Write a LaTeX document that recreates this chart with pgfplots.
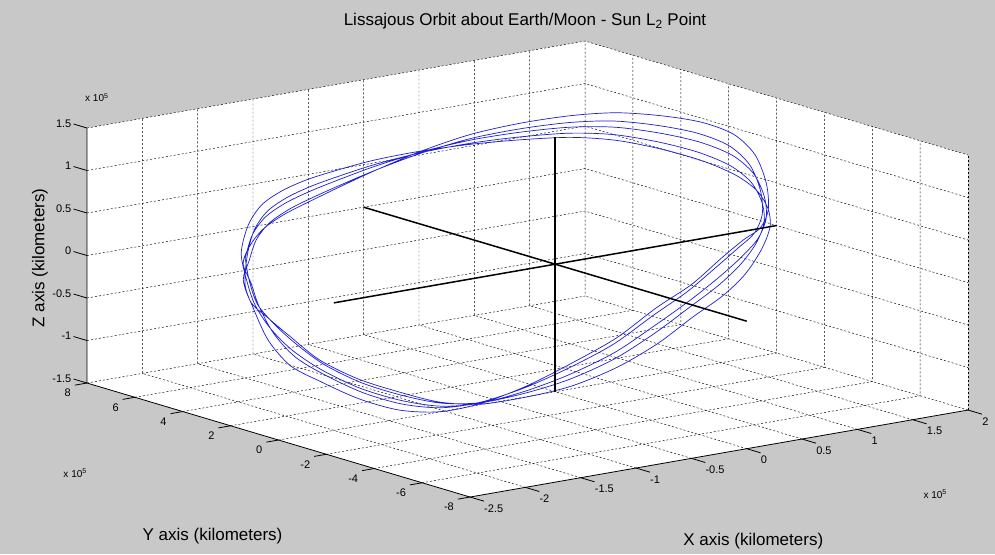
\documentclass[border=0pt]{standalone}
\usepackage{fontspec}
\setmainfont{Liberation Sans}
\usepackage{pgfplots}
\pgfplotsset{compat=1.18}
\definecolor{figbg}{RGB}{200,200,200}
\definecolor{orbit}{RGB}{30,30,215}
\tikzset{gridline/.style={black,line width=0.45pt,dash pattern=on 2pt off 2pt},
         axline/.style={black,line width=0.8pt},
         tl/.style={font=\fontsize{11}{13}\selectfont,inner sep=0pt}}
\begin{document}
\begin{tikzpicture}
\begin{axis}[
  x={(110.67pt,19.33pt)}, y={(-23.94pt,7.125pt)}, z={(0pt,85pt)},
  xmin=-2.5,xmax=2,ymin=-8,ymax=8,zmin=-1.5,zmax=1.5,
  hide axis, clip=false,
]
\coordinate (O) at (axis cs:0,0,0);
\fill[figbg] ([xshift=-555.2pt,yshift=-289.8pt]axis cs:0,0,0) rectangle ([xshift=439.8pt,yshift=264.2pt]axis cs:0,0,0);
\fill[white] (axis cs:-2.5,8,1.5) -- (axis cs:-2.5,8,-1.5) -- (axis cs:-2.5,-8,-1.5) -- (axis cs:2,-8,-1.5) -- (axis cs:2,-8,1.5) -- (axis cs:2,8,1.5) -- cycle;
% grid: x
\pgfplotsinvokeforeach{-2,-1.5,-1,-0.5,0,0.5,1,1.5}{
  \draw[gridline] (axis cs:#1,-8,-1.5) -- (axis cs:#1,8,-1.5) -- (axis cs:#1,8,1.5);
}
\draw[gridline] (axis cs:2,-8,-1.5) -- (axis cs:2,8,-1.5);
% grid: y
\pgfplotsinvokeforeach{-6,-4,-2,0,2,4,6,8}{
  \draw[gridline] (axis cs:-2.5,#1,-1.5) -- (axis cs:2,#1,-1.5) -- (axis cs:2,#1,1.5);
}
\draw[gridline] (axis cs:2,-8,-1.5) -- (axis cs:2,-8,1.5);
% grid: z
\pgfplotsinvokeforeach{-1,-0.5,0,0.5,1,1.5}{
  \draw[gridline] (axis cs:-2.5,8,#1) -- (axis cs:2,8,#1) -- (axis cs:2,-8,#1);
}
% axis lines
\draw[axline] (axis cs:-2.5,8,1.5) -- (axis cs:-2.5,8,-1.5) -- (axis cs:-2.5,-8,-1.5) -- (axis cs:2,-8,-1.5);
% ticks and labels
\pgfplotsinvokeforeach{-2.5,-2,-1.5,-1,-0.5,0,0.5,1,1.5,2}{
  \draw[axline] (axis cs:#1,-8,-1.5) -- (axis cs:#1,-8.58,-1.5);
  \node[tl,anchor=west] at ([xshift=14pt,yshift=-11.5pt]axis cs:#1,-8,-1.5) {#1};
}
\pgfplotsinvokeforeach{-8,-6,-4,-2,0,2,4,6,8}{
  \draw[axline] (axis cs:-2.5,#1,-1.5) -- (axis cs:-2.61,#1,-1.5);
  \node[tl,anchor=east] at ([xshift=-16pt,yshift=-10pt]axis cs:-2.5,#1,-1.5) {#1};
}
\pgfplotsinvokeforeach{-1.5,-1,-0.5,0,0.5,1,1.5}{
  \draw[axline] (axis cs:-2.5,8,#1) -- (axis cs:-2.5,8.56,#1);
  \node[tl,anchor=east] at ([xshift=-15.5pt,yshift=4.5pt]axis cs:-2.5,8,#1) {#1};
}
% orbit
\addplot3[orbit, line width=0.7pt, smooth, mark=none] coordinates {
(-1.965,3.866,0.193) (-1.713,4.738,0.334) (-1.440,5.456,0.423) (-1.142,6.000,0.474) (-0.840,6.349,0.518) (-0.538,6.496,0.578) (-0.235,6.434,0.667) (0.114,6.164,0.775) (0.464,5.696,0.876) (0.775,5.045,0.954) (1.051,4.233,1.018) (1.253,3.286,1.051) (1.431,2.231,1.029) (1.549,1.105,0.990) (1.587,-0.057,0.926) (1.526,-1.217,0.826) (1.383,-2.337,0.681) (1.175,-3.382,0.558) (0.900,-4.319,0.463) (0.583,-5.117,0.390) (0.247,-5.751,0.285) (-0.121,-6.199,0.124) (-0.491,-6.449,-0.065) (-0.862,-6.491,-0.295) (-1.232,-6.324,-0.484) (-1.559,-5.954,-0.640) (-1.844,-5.392,-0.764) (-2.047,-4.659,-0.814) (-2.217,-3.774,-0.780) (-2.361,-2.768,-0.690) (-2.468,-1.675,-0.545) (-2.490,-0.526,-0.401) (-2.437,0.639,-0.252) (-2.325,1.784,-0.103) (-2.162,2.871,0.039)
(-1.988,3.924,0.253) (-1.732,4.809,0.454) (-1.455,5.538,0.563) (-1.153,6.090,0.614) (-0.846,6.444,0.648) (-0.539,6.593,0.678) (-0.232,6.531,0.727) (0.122,6.256,0.775) (0.478,5.781,0.816) (0.793,5.121,0.854) (1.073,4.296,0.888) (1.278,3.335,0.886) (1.459,2.264,0.829) (1.579,1.122,0.760) (1.617,-0.058,0.686) (1.555,-1.235,0.616) (1.410,-2.372,0.531) (1.199,-3.433,0.458) (0.920,-4.384,0.343) (0.598,-5.194,0.190) (0.257,-5.837,0.065) (-0.116,-6.292,-0.066) (-0.492,-6.546,-0.275) (-0.868,-6.588,-0.465) (-1.244,-6.419,-0.614) (-1.576,-6.043,-0.700) (-1.865,-5.473,-0.764) (-2.071,-4.729,-0.754) (-2.244,-3.831,-0.670) (-2.390,-2.810,-0.570) (-2.498,-1.700,-0.415) (-2.521,-0.534,-0.221) (-2.467,0.649,-0.112) (-2.353,1.811,-0.073) (-2.188,2.914,0.069)
(-1.942,3.808,0.163) (-1.694,4.667,0.274) (-1.425,5.374,0.353) (-1.131,5.910,0.404) (-0.834,6.254,0.453) (-0.537,6.399,0.528) (-0.238,6.337,0.637) (0.106,6.072,0.775) (0.450,5.611,0.906) (0.757,4.969,1.004) (1.029,4.170,1.083) (1.228,3.237,1.134) (1.403,2.198,1.129) (1.519,1.088,1.105) (1.557,-0.056,1.046) (1.497,-1.199,0.931) (1.356,-2.302,0.756) (1.151,-3.331,0.608) (0.880,-4.254,0.523) (0.568,-5.040,0.490) (0.237,-5.665,0.395) (-0.126,-6.106,0.219) (-0.490,-6.352,0.040) (-0.856,-6.394,-0.210) (-1.220,-6.229,-0.419) (-1.542,-5.865,-0.610) (-1.823,-5.311,-0.764) (-2.023,-4.589,-0.844) (-2.190,-3.717,-0.835) (-2.332,-2.726,-0.750) (-2.438,-1.650,-0.610) (-2.459,-0.518,-0.491) (-2.407,0.629,-0.322) (-2.297,1.757,-0.118) (-2.136,2.828,0.024)
(-1.977,3.897,0.133) (-1.723,4.776,0.214) (-1.448,5.500,0.283) (-1.148,6.048,0.334) (-0.843,6.400,0.388) (-0.539,6.548,0.478) (-0.233,6.485,0.607) (0.118,6.213,0.775) (0.471,5.742,0.936) (0.785,5.085,1.054) (1.063,4.267,1.148) (1.267,3.312,1.216) (1.446,2.249,1.229) (1.565,1.114,1.220) (1.603,-0.057,1.166) (1.542,-1.227,1.036) (1.398,-2.356,0.831) (1.188,-3.409,0.658) (0.911,-4.354,0.583) (0.591,-5.158,0.590) (0.252,-5.797,0.505) (-0.118,-6.249,0.314) (-0.491,-6.501,0.145) (-0.865,-6.543,-0.125) (-1.238,-6.375,-0.354) (-1.568,-6.002,-0.580) (-1.855,-5.435,-0.764) (-2.060,-4.696,-0.874) (-2.231,-3.804,-0.890) (-2.376,-2.790,-0.810) (-2.484,-1.688,-0.675) (-2.506,-0.530,-0.581) (-2.453,0.644,-0.392) (-2.340,1.798,-0.133) (-2.176,2.894,0.009)
(-1.953,3.835,0.223) (-1.703,4.700,0.394) (-1.432,5.412,0.493) (-1.136,5.952,0.544) (-0.837,6.298,0.583) (-0.537,6.444,0.628) (-0.237,6.383,0.697) (0.110,6.115,0.775) (0.457,5.650,0.846) (0.765,5.005,0.904) (1.039,4.199,0.953) (1.239,3.260,0.969) (1.416,2.213,0.929) (1.533,1.096,0.875) (1.571,-0.057,0.806) (1.510,-1.207,0.721) (1.368,-2.318,0.606) (1.162,-3.355,0.508) (0.889,-4.284,0.403) (0.575,-5.076,0.290) (0.242,-5.705,0.175) (-0.124,-6.149,0.029) (-0.491,-6.397,-0.170) (-0.859,-6.439,-0.380) (-1.226,-6.273,-0.549) (-1.550,-5.906,-0.670) (-1.833,-5.349,-0.764) (-2.034,-4.622,-0.784) (-2.203,-3.744,-0.725) (-2.346,-2.746,-0.630) (-2.452,-1.662,-0.480) (-2.474,-0.522,-0.311) (-2.421,0.634,-0.182) (-2.310,1.770,-0.088) (-2.148,2.848,0.054)
(-1.965,3.866,0.193)
};
% axes through L2
\addplot3[black, line width=1.5pt, mark=none] coordinates {(-2,0,0) (2,0,0)};
\addplot3[black, line width=1.5pt, mark=none] coordinates {(0,-8,0) (0,8,0)};
\addplot3[black, line width=1.5pt, mark=none] coordinates {(0,0,-1.5) (0,0,1.5)};
% texts
\node[anchor=base,inner sep=0pt,font=\fontsize{17}{20}\selectfont] at ([xshift=-30.2pt,yshift=238.2pt]axis cs:0,0,0) {Lissajous Orbit about Earth/Moon - Sun L\textsubscript{2} Point};
\node[anchor=center,rotate=90,inner sep=0pt,font=\fontsize{17}{20}\selectfont] at ([xshift=-515.2pt,yshift=6.2pt]axis cs:0,0,0) {Z axis (kilometers)};
\node[anchor=base,inner sep=0pt,font=\fontsize{17}{20}\selectfont] at ([xshift=-342.7pt,yshift=-276.3pt]axis cs:0,0,0) {Y axis (kilometers)};
\node[anchor=base,inner sep=0pt,font=\fontsize{17}{20}\selectfont] at ([xshift=198.1pt,yshift=-280.8pt]axis cs:0,0,0) {X axis (kilometers)};
\node[anchor=base west,inner sep=0pt,font=\fontsize{10}{12}\selectfont] at ([xshift=-470.2pt,yshift=162.5pt]axis cs:0,0,0) {x 10\textsuperscript{5}};
\node[anchor=base west,inner sep=0pt,font=\fontsize{10}{12}\selectfont] at ([xshift=-491.9pt,yshift=-213.1pt]axis cs:0,0,0) {x 10\textsuperscript{5}};
\node[anchor=base west,inner sep=0pt,font=\fontsize{10}{12}\selectfont] at ([xshift=368.1pt,yshift=-234.1pt]axis cs:0,0,0) {x 10\textsuperscript{5}};
\end{axis}
\pgfresetboundingbox
\path ([xshift=-555.2pt,yshift=-289.8pt]O) rectangle ([xshift=439.8pt,yshift=264.2pt]O);
\end{tikzpicture}
\end{document}
